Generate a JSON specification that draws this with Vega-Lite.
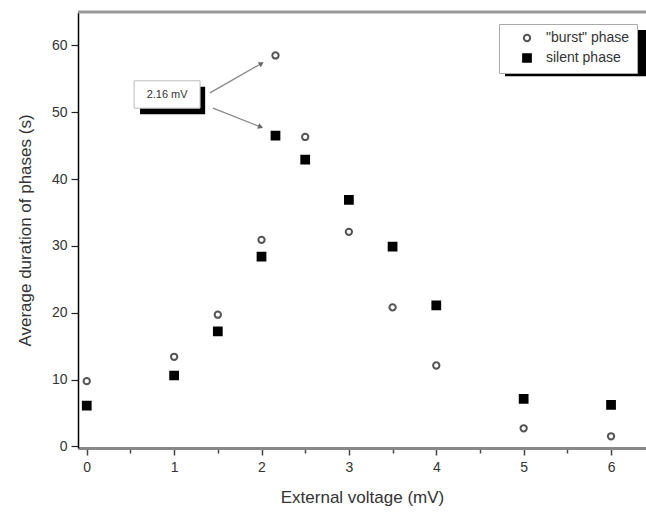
{
  "$schema": "https://vega.github.io/schema/vega-lite/v6.json",
  "width": 568,
  "height": 436,
  "autosize": "none",
  "padding": {"left": 78, "top": 12, "right": 0, "bottom": 68},
  "background": "white",
  "config": {
    "view": {"stroke": null},
    "font": "Liberation Sans",
    "axis": {"grid": false},
    "legend": {
      "orient": "none",
      "legendX": 421,
      "legendY": 12,
      "fillColor": "white",
      "strokeColor": "#aaa",
      "padding": 7,
      "symbolOffset": 14,
      "labelFontSize": 14,
      "labelColor": "#333",
      "rowPadding": 4,
      "labelOffset": 12,
      "symbolStrokeWidth": 2
    }
  },
  "datasets": {
    "points": [
      {"voltage": 0, "duration": 9.75, "phase": "\"burst\" phase"},
      {"voltage": 1, "duration": 13.4, "phase": "\"burst\" phase"},
      {"voltage": 1.5, "duration": 19.7, "phase": "\"burst\" phase"},
      {"voltage": 2, "duration": 30.9, "phase": "\"burst\" phase"},
      {"voltage": 2.16, "duration": 58.5, "phase": "\"burst\" phase"},
      {"voltage": 2.5, "duration": 46.3, "phase": "\"burst\" phase"},
      {"voltage": 3, "duration": 32.1, "phase": "\"burst\" phase"},
      {"voltage": 3.5, "duration": 20.8, "phase": "\"burst\" phase"},
      {"voltage": 4, "duration": 12.1, "phase": "\"burst\" phase"},
      {"voltage": 5, "duration": 2.7, "phase": "\"burst\" phase"},
      {"voltage": 6, "duration": 1.5, "phase": "\"burst\" phase"},
      {"voltage": 0, "duration": 6.1, "phase": "silent phase"},
      {"voltage": 1, "duration": 10.6, "phase": "silent phase"},
      {"voltage": 1.5, "duration": 17.2, "phase": "silent phase"},
      {"voltage": 2, "duration": 28.4, "phase": "silent phase"},
      {"voltage": 2.16, "duration": 46.5, "phase": "silent phase"},
      {"voltage": 2.5, "duration": 42.9, "phase": "silent phase"},
      {"voltage": 3, "duration": 36.9, "phase": "silent phase"},
      {"voltage": 3.5, "duration": 29.9, "phase": "silent phase"},
      {"voltage": 4, "duration": 21.1, "phase": "silent phase"},
      {"voltage": 5, "duration": 7.1, "phase": "silent phase"},
      {"voltage": 6, "duration": 6.2, "phase": "silent phase"}
    ],
    "shadows": [
      {"x1": 0.61, "x2": 1.355, "y1": 53.8, "y2": 49.7},
      {"x1": 4.787, "x2": 6.45, "y1": 62.3, "y2": 55.4}
    ],
    "boxes": [
      {"x1": 0.543, "x2": 1.297, "y1": 54.7, "y2": 50.6, "x": 0.92, "y": 52.65, "label": "2.16 mV"}
    ],
    "arrows": [
      {"x1": 1.41, "y1": 52.9, "x2": 2.0, "y2": 57.3, "angle": 330},
      {"x1": 1.445, "y1": 50.6, "x2": 1.99, "y2": 47.8, "angle": 22}
    ],
    "frame": [
      {"top": 65}
    ]
  },
  "layer": [
    {
      "data": {"name": "points"},
      "mark": {"type": "point", "strokeWidth": 2, "opacity": 1},
      "encoding": {
        "x": {
          "field": "voltage", "type": "quantitative",
          "scale": {"domain": [-0.1, 6.4], "nice": false, "zero": false},
          "axis": {
            "title": "External voltage (mV)",
            "values": [0, 0.5, 1, 1.5, 2, 2.5, 3, 3.5, 4, 4.5, 5, 5.5, 6],
            "labelExpr": "datum.value % 1 === 0 ? format(datum.value, 'd') : ''",
            "grid": false,
            "domainColor": "#888",
            "domainWidth": 3,
            "tickColor": "#444",
            "tickWidth": 1.5,
            "tickSize": {"condition": {"test": "datum.value % 1 !== 0", "value": 5}, "value": 7},
            "labelFontSize": 14,
            "labelColor": "#333",
            "labelPadding": 5,
            "titleFontSize": 17,
            "titleFontWeight": "normal",
            "titleColor": "#333",
            "titlePadding": 15
          }
        },
        "y": {
          "field": "duration", "type": "quantitative",
          "scale": {"domain": [-0.25, 65], "nice": false, "zero": false},
          "axis": {
            "title": "Average duration of phases (s)",
            "values": [0, 5, 10, 15, 20, 25, 30, 35, 40, 45, 50, 55, 60],
            "labelExpr": "datum.value % 10 === 0 ? datum.label : ''",
            "grid": false,
            "domainColor": "black",
            "domainWidth": 1.5,
            "tickColor": "#222",
            "tickWidth": 1.2,
            "tickSize": {"condition": {"test": "datum.value % 10 !== 0", "value": 4}, "value": 7},
            "labelFontSize": 14,
            "labelColor": "#333",
            "labelPadding": 4,
            "titleFontSize": 17,
            "titleFontWeight": "normal",
            "titleColor": "#333",
            "titlePadding": 17
          }
        },
        "shape": {"field": "phase", "type": "nominal", "scale": {"domain": ["\"burst\" phase", "silent phase"], "range": ["circle", "square"]}, "legend": {"title": null}},
        "fill": {"field": "phase", "type": "nominal", "scale": {"domain": ["\"burst\" phase", "silent phase"], "range": ["white", "black"]}, "legend": {"title": null}},
        "stroke": {"field": "phase", "type": "nominal", "scale": {"domain": ["\"burst\" phase", "silent phase"], "range": ["#555", "black"]}, "legend": {"title": null}},
        "size": {"field": "phase", "type": "nominal", "scale": {"domain": ["\"burst\" phase", "silent phase"], "range": [40, 60]}, "legend": {"title": null}}
      }
    },
    {
      "data": {"name": "frame"},
      "mark": {"type": "rule", "color": "#999", "strokeWidth": 3},
      "encoding": {
        "y": {"field": "top", "type": "quantitative"}
      }
    },
    {
      "data": {"name": "shadows"},
      "mark": {"type": "rect", "color": "black"},
      "encoding": {
        "x": {"field": "x1", "type": "quantitative"},
        "x2": {"field": "x2"},
        "y": {"field": "y1", "type": "quantitative"},
        "y2": {"field": "y2"}
      }
    },
    {
      "data": {"name": "boxes"},
      "mark": {"type": "rect", "fill": "white", "stroke": "#bbb", "strokeWidth": 1},
      "encoding": {
        "x": {"field": "x1", "type": "quantitative"},
        "x2": {"field": "x2"},
        "y": {"field": "y1", "type": "quantitative"},
        "y2": {"field": "y2"}
      }
    },
    {
      "data": {"name": "boxes"},
      "mark": {"type": "text", "fontSize": 11, "color": "#333", "align": "center", "baseline": "middle"},
      "encoding": {
        "x": {"field": "x", "type": "quantitative"},
        "y": {"field": "y", "type": "quantitative"},
        "text": {"field": "label"}
      }
    },
    {
      "data": {"name": "arrows"},
      "mark": {"type": "rule", "color": "#888", "strokeWidth": 1.3},
      "encoding": {
        "x": {"field": "x1", "type": "quantitative"},
        "x2": {"field": "x2"},
        "y": {"field": "y1", "type": "quantitative"},
        "y2": {"field": "y2"}
      }
    },
    {
      "data": {"name": "arrows"},
      "mark": {"type": "point", "shape": "triangle-right", "filled": true, "color": "#666", "size": 35, "opacity": 1},
      "encoding": {
        "x": {"field": "x2", "type": "quantitative"},
        "y": {"field": "y2", "type": "quantitative"},
        "angle": {"field": "angle", "type": "quantitative", "scale": null}
      }
    }
  ]
}
